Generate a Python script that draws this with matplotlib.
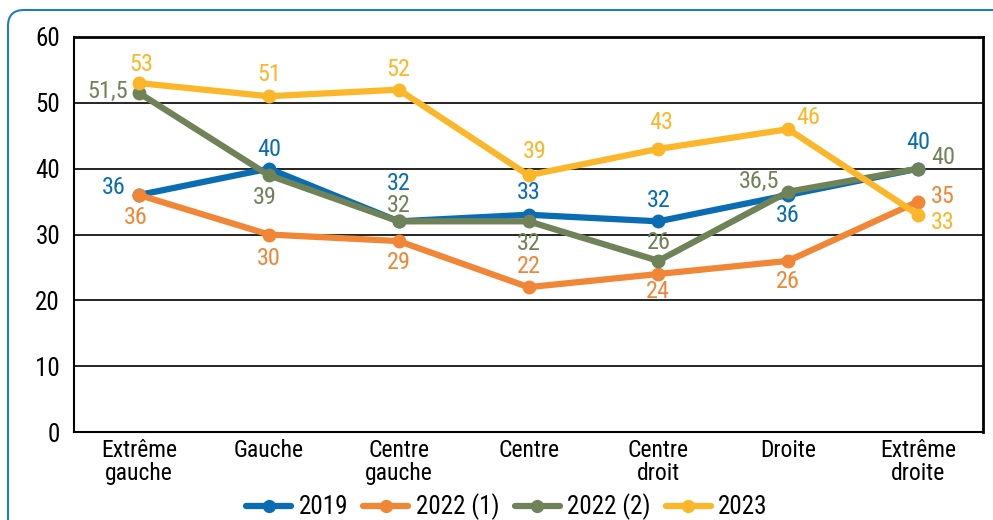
import matplotlib
matplotlib.use("Agg")
import matplotlib.pyplot as plt
from matplotlib import font_manager
from matplotlib.patches import FancyBboxPatch
from matplotlib.lines import Line2D

avail = {f.name for f in font_manager.fontManager.ttflist}
fam = [f for f in ['Roboto Condensed', 'Liberation Sans Narrow', 'Arial Narrow', 'Liberation Sans'] if f in avail]
plt.rcParams['font.family'] = fam + ['DejaVu Sans']

categories = ["Extrême\ngauche", "Gauche", "Centre\ngauche", "Centre", "Centre\ndroit", "Droite", "Extrême\ndroite"]
series_names = ["2019", "2022 (1)", "2022 (2)", "2023"]
v2019 = [36, 40, 32, 33, 32, 36, 40]
v2022_1 = [36, 30, 29, 22, 24, 26, 35]
v2022_2 = [51.5, 39, 32, 32, 26, 36.5, 40]
v2023 = [53, 51, 52, 39, 43, 46, 33]
yticks = [0, 10, 20, 30, 40, 50, 60]

colors = ["#0a6db3", "#f08636", "#6f8258", "#fbb62a"]
values = [v2019, v2022_1, v2022_2, v2023]

offsets = [
    [(-25, 7), (0, 19), (0, 38), (0, 22), (0, 21), (0, -20), (0, 26)],
    [(-3, -23), (0, -24), (0, -21), (0, 21), (0, -17), (0, -21), (25, 5)],
    [(-31, 1), (-4, -22), (0, 16), (0, -22), (0, 18), (-29, 10), (25, 11)],
    [(2, 19), (0, 22), (0, 20), (6, 24), (3, 26), (20, 12), (25, -8)],
]

fig = plt.figure(figsize=(9.93, 5.2), dpi=100)
ax = fig.add_axes([74/993, 1-432/520, (983-74)/993, (432-37)/520])

x = list(range(len(categories)))
for i, (vals, c) in enumerate(zip(values, colors)):
    ax.plot(x, vals, color=c, lw=4.5, marker='o', ms=9, solid_capstyle='round', zorder=3+i*0.1)

for i, (vals, c) in enumerate(zip(values, colors)):
    for j, v in enumerate(vals):
        dx, dy = offsets[i][j]
        txt = (f"{v:g}").replace('.', ',')
        ax.annotate(txt, (j, v), xytext=(dx*0.72, dy*0.72), textcoords='offset points',
                    ha='center', va='center', color=c, fontsize=17.5, zorder=5)

ax.set_xlim(-0.5, 6.5)
ax.set_ylim(0, 60)
ax.set_yticks(yticks)
ax.set_yticklabels([str(t) for t in yticks], fontsize=18)
ax.set_xticks(x)
ax.set_xticklabels(categories, fontsize=17, linespacing=0.98)
ax.tick_params(length=0, pad=5)
ax.tick_params(axis='y', pad=10)
for yv in yticks[1:]:
    ax.axhline(yv, color='black', lw=1.2, zorder=1)
for s in ax.spines.values():
    s.set_color('black')
    s.set_linewidth(1.5)
ax.spines['top'].set_linewidth(2)
ax.spines['right'].set_linewidth(2)

handles = [Line2D([0], [0], color=c, lw=4.5, marker='o', ms=8.5, solid_capstyle='round') for c in colors]
fig.legend(handles, series_names, loc='center', bbox_to_anchor=(507/993, 1-507/520), ncol=4,
           frameon=False, fontsize=18, handlelength=1.8, handletextpad=0.3, columnspacing=0.6,
           borderaxespad=0)

box = FancyBboxPatch((0.08, -0.5), 10.5, 5.6, boxstyle="round,pad=0,rounding_size=0.16",
                     transform=fig.dpi_scale_trans, fill=False, edgecolor="#1f7cc0", lw=1.5,
                     clip_on=False)
fig.patches.append(box)

fig.savefig("out.png", dpi=100)
